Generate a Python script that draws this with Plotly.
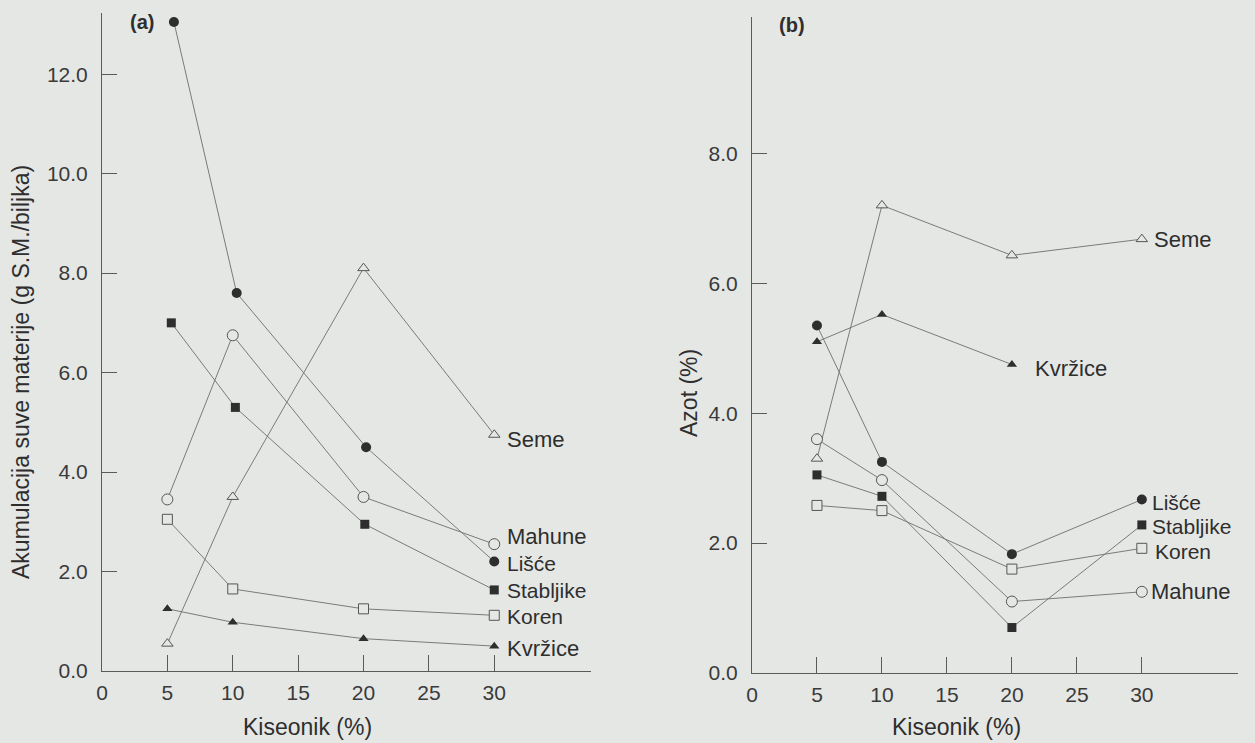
import plotly.graph_objects as go

# ---------------- data ----------------
oxygen = [5, 10, 20, 30]
oxygen_kvrzice_b = [5, 10, 20]
xticks = [0, 5, 10, 15, 20, 25, 30]
yticks_a = [0, 2, 4, 6, 8, 10, 12]
yticks_b = [0, 2, 4, 6, 8]

# panel (a): dry matter accumulation (g S.M./biljka)
a_x_lisce = [5.5, 10.3, 20.2, 30]
a_x_stabljike = [5.3, 10.2, 20.1, 30]
a_lisce = [13.05, 7.6, 4.5, 2.2]
a_stabljike = [7.0, 5.3, 2.95, 1.63]
a_mahune = [3.45, 6.75, 3.5, 2.55]
a_koren = [3.05, 1.65, 1.25, 1.12]
a_kvrzice = [1.25, 0.98, 0.65, 0.5]
a_seme = [0.55, 3.5, 8.1, 4.75]

# panel (b): nitrogen (%)
b_seme = [3.3, 7.2, 6.43, 6.68]
b_kvrzice = [5.1, 5.52, 4.75]
b_lisce = [5.35, 3.25, 1.83, 2.67]
b_mahune = [3.6, 2.97, 1.1, 1.25]
b_stabljike = [3.05, 2.72, 0.7, 2.28]
b_koren = [2.58, 2.5, 1.6, 1.92]

# ---------------- style ----------------
BG = "#e5e7e5"
INK = "#2e2e2e"
LINE = "#7a7a7a"
AXIS = "#5a5a5a"
FONT = "Liberation Sans, Arial, sans-serif"

MARK = {
    "Lisce": dict(symbol="circle", size=10, color=INK, line=dict(width=0)),
    "Stabljike": dict(symbol="square", size=9, color=INK, line=dict(width=0)),
    "Mahune": dict(symbol="circle", size=11, color=BG, line=dict(width=1, color="#555")),
    "Koren": dict(symbol="square", size=10, color=BG, line=dict(width=1, color="#555")),
    "Kvrzice": dict(symbol="triangle-up", size=9, color=INK, line=dict(width=0)),
    "Seme": dict(symbol="triangle-up", size=10, color=BG, line=dict(width=1, color="#555")),
}
LABEL = {"Lisce": "Lišće", "Stabljike": "Stabljike", "Mahune": "Mahune",
         "Koren": "Koren", "Kvrzice": "Kvržice", "Seme": "Seme"}

fig = go.Figure()

def add(x, y, key, xa, ya):
    fig.add_trace(go.Scatter(
        x=x, y=y, mode="lines+markers", name=LABEL[key],
        line=dict(color=LINE, width=1), marker=MARK[key],
        xaxis=xa, yaxis=ya, showlegend=False, cliponaxis=False))

# panel a
add(oxygen, a_seme, "Seme", "x", "y")
add(oxygen, a_kvrzice, "Kvrzice", "x", "y")
add(oxygen, a_koren, "Koren", "x", "y")
add(a_x_stabljike, a_stabljike, "Stabljike", "x", "y")
add(oxygen, a_mahune, "Mahune", "x", "y")
add(a_x_lisce, a_lisce, "Lisce", "x", "y")
# panel b
add(oxygen, b_seme, "Seme", "x2", "y2")
add(oxygen_kvrzice_b, b_kvrzice, "Kvrzice", "x2", "y2")
add(oxygen, b_koren, "Koren", "x2", "y2")
add(oxygen, b_stabljike, "Stabljike", "x2", "y2")
add(oxygen, b_mahune, "Mahune", "x2", "y2")
add(oxygen, b_lisce, "Lisce", "x2", "y2")

ann = []

def label(xv, yv, key, xr, yr, xs, ys, size=22):
    ann.append(dict(x=xv, y=yv, xref=xr, yref=yr, text=LABEL[key], showarrow=False,
                    xanchor="left", yanchor="middle", xshift=xs, yshift=ys,
                    font=dict(family=FONT, size=size, color=INK)))

label(oxygen[-1], a_seme[-1], "Seme", "x", "y", 11, -5)
label(oxygen[-1], a_mahune[-1], "Mahune", "x", "y", 11, 8)
label(oxygen[-1], a_lisce[-1], "Lisce", "x", "y", 11, -2, 21)
label(oxygen[-1], a_stabljike[-1], "Stabljike", "x", "y", 11, -1, 21)
label(oxygen[-1], a_koren[-1], "Koren", "x", "y", 11, -1, 21)
label(oxygen[-1], a_kvrzice[-1], "Kvrzice", "x", "y", 11, -2)

label(oxygen[-1], b_seme[-1], "Seme", "x2", "y2", 10, 0)
label(oxygen[-1], b_lisce[-1], "Lisce", "x2", "y2", 8, -3, 21)
label(oxygen[-1], b_stabljike[-1], "Stabljike", "x2", "y2", 8, -2, 21)
label(oxygen[-1], b_koren[-1], "Koren", "x2", "y2", 11, -3, 21)
label(oxygen[-1], b_mahune[-1], "Mahune", "x2", "y2", 7, 0)
label(oxygen_kvrzice_b[-1], b_kvrzice[-1], "Kvrzice", "x2", "y2", 21, -4)

W, H = 1255, 743

def px(xp):
    return xp / W

def py(yp):
    return 1 - yp / H

def paper_text(x, y, text, size, angle=0):
    ann.append(dict(x=px(x), y=py(y), xref="paper", yref="paper", text=text,
                    textangle=angle, xanchor="center", yanchor="middle",
                    showarrow=False, font=dict(family=FONT, size=size, color=INK)))

# panel tags
paper_text(142, 22, "<b>(a)</b>", 20)
paper_text(792, 25, "<b>(b)</b>", 20)
# axis titles
paper_text(307, 727, "Kiseonik (%)", 23)
paper_text(956, 727, "Kiseonik (%)", 23)
paper_text(21, 372, "Akumulacija suve materije (g S.M./biljka)", 23, -90)
paper_text(689, 393, "Azot (%)", 23, -90)

tickfont = dict(family=FONT, size=21, color="#3a3a3a")
common_x = dict(range=[0, 37.4], tickvals=xticks, ticks="inside", ticklen=16, tickcolor=AXIS,
                showline=True, linecolor=AXIS, linewidth=1, showgrid=False, zeroline=False,
                tickfont=tickfont, automargin=False, ticklabelstandoff=3)
common_y = dict(ticks="inside", ticklen=15, tickcolor=AXIS, tickformat=".1f",
                showline=True, linecolor=AXIS, linewidth=1, showgrid=False, zeroline=False,
                tickfont=tickfont, automargin=False, ticklabelstandoff=9)

fig.update_layout(
    width=W, height=H,
    margin=dict(l=0, r=0, t=0, b=0),
    paper_bgcolor=BG, plot_bgcolor=BG,
    font=dict(family=FONT, color=INK),
    xaxis=dict(domain=[px(102), px(591)], anchor="y", **common_x),
    yaxis=dict(domain=[py(671), py(13)], range=[0, 13.23], tickvals=yticks_a, anchor="x", **common_y),
    xaxis2=dict(domain=[px(752), px(1238)], anchor="y2", **common_x),
    yaxis2=dict(domain=[py(673), py(17)], range=[0, 10.1], tickvals=yticks_b, anchor="x2", **common_y),
    annotations=ann,
)

fig.write_html("out.html", config={"displayModeBar": False},
               post_script="document.body.style.margin='0';document.body.style.background='%s';" % BG)
